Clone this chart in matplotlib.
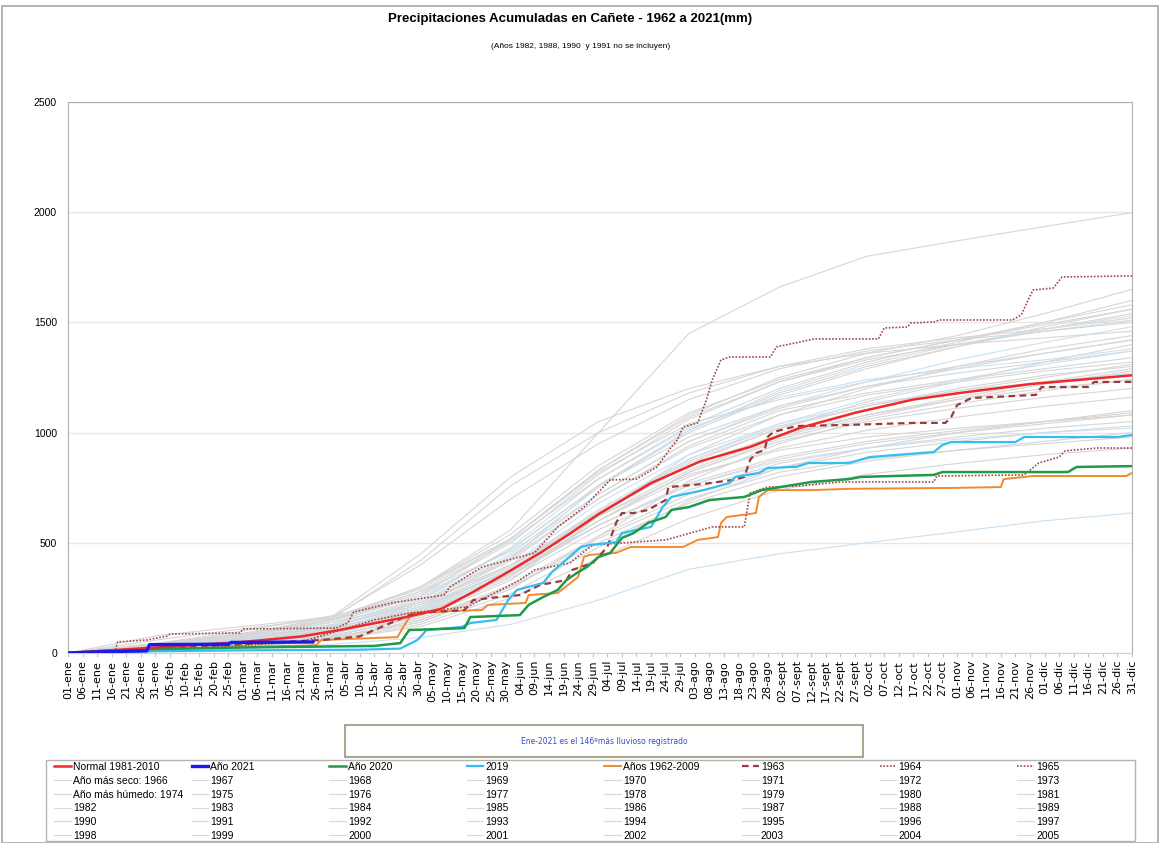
import numpy as np
import pandas as pd
import matplotlib
matplotlib.use("Agg")
import matplotlib.pyplot as plt
from matplotlib.lines import Line2D
from matplotlib.patches import Rectangle

plt.rcParams['font.family'] = ['Liberation Sans', 'DejaVu Sans']

W, H = 1161, 843

# --- datos (dia del año 0..365, mm acumulados) ---
meses = ['ene', 'feb', 'mar', 'abr', 'may', 'jun', 'jul', 'ago', 'sept', 'oct', 'nov', 'dic']

normal_dias = [0, 30, 60, 80, 93, 116, 128, 139, 150, 162, 172, 182, 200, 217, 234, 251, 270, 290, 306, 330, 365]
normal_mm = [0, 25, 50, 75, 104, 163, 200, 277, 360, 454, 540, 630, 771, 870, 935, 1021, 1090, 1150, 1180, 1220, 1260]

a2021_dias = [0, 10, 27, 28, 55, 56, 84]
a2021_mm = [0, 5, 10, 38, 40, 48, 50]

a2020_dias = [0, 10, 30, 60, 105, 114, 117, 136, 138, 155, 158, 163, 168, 171, 175, 178, 182, 186, 190, 194,
              199, 205, 207, 213, 220, 232, 238, 255, 268, 272, 297, 300, 343, 346, 365]
a2020_mm = [0, 8, 18, 25, 32, 45, 104, 113, 163, 172, 218, 254, 286, 331, 367, 390, 436, 454, 522, 544,
            590, 617, 649, 662, 694, 708, 739, 776, 789, 799, 808, 821, 821, 844, 848]

a2019_dias = [0, 30, 60, 100, 114, 120, 123, 135, 138, 147, 151, 154, 163, 166, 176, 179, 188, 190, 200, 204,
              207, 218, 222, 227, 229, 237, 240, 250, 254, 268, 275, 297, 300, 303, 325, 328, 360, 365]
a2019_mm = [0, 8, 12, 15, 20, 60, 104, 118, 136, 150, 240, 286, 318, 367, 481, 490, 503, 544, 572, 662,
            708, 739, 753, 771, 799, 817, 839, 845, 862, 862, 889, 912, 944, 957, 957, 980, 980, 989]

a1962_dias = [0, 20, 60, 85, 87, 113, 115, 118, 131, 142, 144, 157, 158, 168, 175, 177, 179, 188, 193, 211,
              216, 223, 224, 226, 236, 237, 240, 255, 268, 304, 320, 321, 331, 363, 365]
a1962_mm = [0, 15, 27, 35, 59, 72, 118, 181, 190, 195, 218, 227, 263, 272, 345, 436, 445, 454, 481, 481,
            513, 526, 590, 617, 635, 708, 739, 739, 745, 749, 753, 789, 803, 803, 817]

a1963_dias = [0, 30, 60, 88, 100, 117, 125, 136, 139, 145, 155, 162, 171, 173, 180, 185, 188, 190, 194, 199,
              205, 206, 218, 223, 228, 232, 234, 236, 239, 240, 242, 250, 268, 290, 301, 303, 305, 310, 332,
              334, 350, 352, 365]
a1963_mm = [0, 20, 40, 60, 75, 172, 186, 195, 240, 250, 263, 309, 331, 377, 408, 481, 590, 635, 635, 649,
            694, 753, 767, 776, 785, 799, 876, 907, 921, 980, 1003, 1030, 1035, 1044, 1044, 1071, 1125, 1157,
            1171, 1207, 1207, 1230, 1230]

a1964_dias = [0, 16, 17, 27, 34, 35, 59, 60, 92, 96, 98, 111, 129, 131, 142, 160, 168, 177, 186, 195, 202,
              207, 209, 211, 216, 219, 221, 224, 227, 241, 243, 251, 256, 278, 280, 288, 289, 297, 299, 324,
              327, 331, 338, 341, 365]
a1964_mm = [0, 0, 50, 59, 77, 86, 91, 109, 113, 136, 186, 227, 263, 300, 390, 454, 572, 662, 785, 789, 844,
            935, 966, 1025, 1044, 1148, 1239, 1330, 1343, 1343, 1389, 1411, 1425, 1425, 1475, 1479, 1497, 1502,
            1511, 1511, 1534, 1647, 1656, 1706, 1711]

a1965_dias = [0, 40, 80, 105, 117, 137, 155, 160, 172, 180, 205, 221, 232, 234, 240, 251, 265, 297, 298, 328,
              333, 340, 342, 353, 365]
a1965_mm = [0, 20, 50, 150, 181, 209, 331, 377, 408, 490, 513, 572, 572, 726, 753, 758, 776, 776, 803, 808,
            862, 889, 917, 930, 930]

# resto de años: valores al inicio de cada mes (y 31-dic)
gris_dias = [0, 31, 60, 91, 121, 152, 182, 213, 244, 274, 305, 335, 365]
gris_anios = [1966, 1967, 1968, 1969, 1970, 1971, 1972, 1973, 1974, 1975, 1976, 1977, 1978, 1979, 1980, 1981,
              1983, 1984, 1985, 1986, 1987, 1989, 1992, 1993, 1994, 1995, 1996, 1997, 1998, 1999, 2000, 2001,
              2002, 2003, 2004, 2005, 2006, 2007, 2008, 2009, 2010, 2011]
gris_mm = [
    [0, 8, 20, 40, 70, 130, 240, 380, 450, 500, 550, 600, 635],
    [0, 35, 70, 140, 260, 520, 830, 1080, 1250, 1360, 1440, 1540, 1650],
    [0, 20, 45, 95, 210, 430, 760, 1010, 1180, 1300, 1390, 1480, 1560],
    [0, 60, 110, 160, 420, 760, 1000, 1180, 1300, 1380, 1430, 1470, 1520],
    [0, 15, 40, 80, 160, 330, 620, 900, 1080, 1200, 1300, 1380, 1440],
    [0, 30, 60, 120, 240, 480, 790, 1020, 1160, 1240, 1290, 1330, 1380],
    [0, 10, 30, 70, 140, 290, 530, 780, 950, 1060, 1130, 1190, 1240],
    [0, 45, 90, 150, 300, 520, 820, 1040, 1150, 1230, 1300, 1360, 1420],
    [0, 40, 80, 150, 300, 560, 1000, 1450, 1660, 1800, 1870, 1935, 1998],
    [0, 25, 55, 100, 190, 380, 640, 870, 1020, 1120, 1200, 1260, 1300],
    [0, 12, 35, 75, 170, 360, 600, 800, 930, 1010, 1070, 1120, 1160],
    [0, 40, 85, 150, 280, 460, 720, 960, 1120, 1230, 1330, 1410, 1480],
    [0, 18, 50, 110, 220, 420, 700, 940, 1100, 1180, 1240, 1290, 1340],
    [0, 8, 25, 60, 130, 270, 480, 690, 840, 930, 1000, 1050, 1100],
    [0, 28, 65, 130, 250, 470, 760, 1000, 1170, 1290, 1390, 1470, 1540],
    [0, 80, 120, 165, 400, 700, 950, 1150, 1290, 1370, 1420, 1460, 1500],
    [0, 22, 48, 90, 180, 350, 580, 760, 880, 950, 1000, 1040, 1080],
    [0, 14, 40, 85, 200, 400, 680, 900, 1040, 1130, 1190, 1230, 1270],
    [0, 32, 75, 150, 270, 500, 810, 1060, 1230, 1340, 1420, 1500, 1580],
    [0, 20, 45, 100, 190, 360, 600, 820, 960, 1050, 1110, 1160, 1200],
    [0, 38, 80, 140, 230, 400, 620, 830, 980, 1080, 1160, 1230, 1290],
    [0, 10, 30, 65, 140, 300, 520, 700, 820, 880, 920, 950, 980],
    [0, 26, 60, 120, 230, 440, 720, 960, 1110, 1210, 1290, 1360, 1420],
    [0, 45, 100, 170, 450, 800, 1050, 1200, 1300, 1360, 1400, 1430, 1460],
    [0, 16, 38, 80, 170, 340, 560, 740, 860, 930, 980, 1020, 1050],
    [0, 30, 70, 130, 240, 450, 750, 1010, 1190, 1310, 1400, 1470, 1530],
    [0, 22, 55, 110, 210, 390, 650, 880, 1030, 1120, 1190, 1250, 1310],
    [0, 12, 35, 70, 150, 310, 530, 720, 840, 910, 960, 1000, 1030],
    [0, 35, 75, 150, 260, 470, 760, 980, 1120, 1210, 1270, 1320, 1370],
    [0, 18, 45, 95, 200, 380, 620, 810, 920, 980, 1020, 1050, 1080],
    [0, 42, 88, 160, 300, 540, 850, 1090, 1240, 1340, 1420, 1490, 1560],
    [0, 25, 60, 115, 210, 370, 580, 760, 870, 930, 970, 1000, 1020],
    [0, 15, 42, 90, 180, 350, 600, 820, 970, 1070, 1150, 1220, 1280],
    [0, 30, 68, 125, 220, 400, 640, 850, 990, 1080, 1150, 1200, 1240],
    [0, 20, 50, 105, 200, 380, 630, 860, 1020, 1140, 1230, 1320, 1400],
    [0, 10, 28, 60, 120, 250, 430, 610, 740, 810, 860, 900, 930],
    [0, 36, 78, 155, 280, 510, 790, 1030, 1200, 1320, 1410, 1500, 1600],
    [0, 24, 52, 100, 190, 360, 580, 770, 890, 960, 1010, 1050, 1090],
    [0, 18, 44, 90, 185, 370, 640, 880, 1040, 1150, 1240, 1310, 1370],
    [0, 28, 62, 120, 230, 430, 700, 930, 1080, 1170, 1230, 1280, 1320],
    [0, 12, 32, 70, 150, 300, 500, 680, 800, 870, 920, 960, 1000],
    [0, 40, 85, 165, 290, 520, 830, 1070, 1230, 1330, 1400, 1460, 1510],
]
gris_azul = [1966, 1971, 1977, 1984, 1995, 2001, 2008]

leyenda_fila1 = ['Normal 1981-2010', 'Año 2021', 'Año 2020', '2019', 'Años 1962-2009', '1963', '1964', '1965']
leyenda_resto = ['Año más seco: 1966'] + [str(a) for a in range(1967, 1974)] + \
                ['Año más húmedo: 1974'] + [str(a) for a in range(1975, 2006)]

fechas = pd.date_range('2020-01-01', '2020-12-31', freq='5D')
xt_pos = [(d - fechas[0]).days for d in fechas]
xt_lab = ['%02d-%s' % (d.day, meses[d.month - 1]) for d in fechas]

# --- figura ---
fig = plt.figure(figsize=(W / 100, H / 100), dpi=100)
fig.patches.append(Rectangle((2 / W, 0), 1 - 5 / W, 1 - 6 / H, transform=fig.transFigure,
                             fill=False, edgecolor='#a8a8a8', lw=1.2))

ax = fig.add_axes([68 / W, 1 - 653 / H, (1132 - 68) / W, (653 - 102) / H])

for anio, vals in zip(gris_anios, gris_mm):
    col = '#c9e2f4' if anio in gris_azul else '#d6d6d6'
    ax.plot(gris_dias, vals, color=col, lw=0.8, zorder=1)

h1962, = ax.plot(a1962_dias, a1962_mm, color='#f08a30', lw=1.4, zorder=3)
h1965, = ax.plot(a1965_dias, a1965_mm, color='#a04848', lw=1.2, ls=(0, (1, 1)), zorder=3)
h1964, = ax.plot(a1964_dias, a1964_mm, color='#a04848', lw=1.2, ls=(0, (1, 1)), zorder=3)
h1963, = ax.plot(a1963_dias, a1963_mm, color='#9a3c3c', lw=1.6, ls=(0, (3, 2)), zorder=3)
h2019, = ax.plot(a2019_dias, a2019_mm, color='#35bdf0', lw=1.6, zorder=4)
h2020, = ax.plot(a2020_dias, a2020_mm, color='#1f9a48', lw=1.8, zorder=4)
hnorm, = ax.plot(normal_dias, normal_mm, color='#f02828', lw=1.8, zorder=5)
h2021, = ax.plot(a2021_dias, a2021_mm, color='#1a1aee', lw=2.4, zorder=6)

ax.set_xlim(0, 365)
ax.set_ylim(0, 2500)
ax.set_yticks(range(0, 2501, 500))
ax.set_xticks(xt_pos)
ax.set_xticklabels(xt_lab, rotation=90, fontsize=8, family='DejaVu Sans')
ax.tick_params(axis='y', length=0, labelsize=7.5, pad=8)
ax.tick_params(axis='x', length=3, color='#c8c8c8', pad=2)
ax.grid(axis='y', color='#e6e6e6', lw=1)
ax.set_axisbelow(True)
for s in ax.spines.values():
    s.set_color('#b0b0b0')
ax.spines['bottom'].set_color('#d0d0d0')

fig.text(570 / W, 1 - 19 / H, 'Precipitaciones Acumuladas en Cañete - 1962 a 2021(mm)',
         ha='center', va='center', fontsize=9.5, fontweight='bold')
fig.text(581 / W, 1 - 47 / H, '(Años 1982, 1988, 1990  y 1991 no se incluyen)',
         ha='center', va='center', fontsize=6)

# cuadro de nota
fig.patches.append(Rectangle((345 / W, 1 - 757 / H), (863 - 345) / W, 32 / H, transform=fig.transFigure,
                             fill=False, edgecolor='#aaa692', lw=1.5))
fig.text(604 / W, 1 - 741 / H, 'Ene-2021 es el 146ºmás lluvioso registrado', ha='center', va='center',
         fontsize=5.5, color='#3050c8', family='DejaVu Sans')

# leyenda
fig.patches.append(Rectangle((46 / W, 1 - 841 / H), (1135 - 46) / W, 81 / H, transform=fig.transFigure,
                             fill=False, edgecolor='#b4b4b4', lw=1))
gris_h = Line2D([], [], color='#d9d9d9', lw=0.8)
fila1_h = [hnorm, h2021, h2020, h2019, h1962, h1963, h1964, h1965]
for c in range(8):
    hs = [fila1_h[c]] + [gris_h] * 5
    ls = [leyenda_fila1[c]] + [leyenda_resto[r * 8 + c] for r in range(5)]
    fig.legend(hs, ls, loc='upper left', bbox_to_anchor=((54 + 137.6 * c) / W, 1 - 762 / H),
               frameon=False, fontsize=7.5, borderpad=0, borderaxespad=0, handlelength=1.6,
               handletextpad=0.2, labelspacing=0.36)

fig.savefig('out.png', dpi=100)
